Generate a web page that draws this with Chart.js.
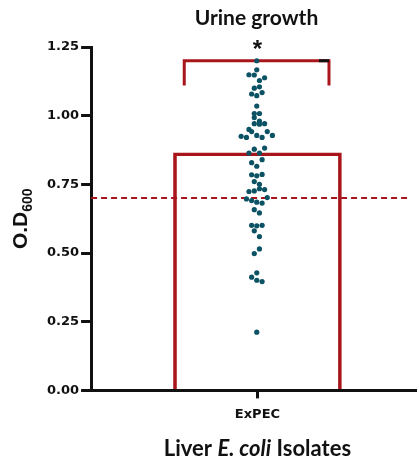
<!DOCTYPE html>
<html lang="en">
<head>
  <meta charset="UTF-8">
  <title>Urine growth</title>
  <script src="https://cdn.jsdelivr.net/npm/chart.js"></script>
  <style>
    html, body { margin: 0; padding: 0; background: #fff; }
    #wrap { width: 419px; height: 461px; }
  </style>
</head>
<body>
  <div id="wrap"><canvas id="chart"></canvas></div>
  <script>
    // data
    const category = 'ExPEC';
    const meanOD = 0.865;
    const cutoff = 0.70;
    const yTicks = [0, 0.25, 0.5, 0.75, 1.0, 1.25];
    const odValues = [
      1.20, 1.167, 1.149, 1.148, 1.128, 1.138, 1.100, 1.105, 1.079, 1.073, 1.084,
      1.035, 1.008, 1.008, 0.993, 0.971, 0.980, 0.969, 0.971, 0.950, 0.942, 0.942,
      0.925, 0.921, 0.928, 0.921, 0.928, 0.878, 0.882, 0.864, 0.864,
      0.840, 0.829, 0.816, 0.785, 0.781, 0.786, 0.760, 0.750, 0.724, 0.726, 0.734,
      0.731, 0.697, 0.691, 0.685, 0.682, 0.702, 0.658, 0.646, 0.601, 0.599, 0.601,
      0.581, 0.560, 0.515, 0.498, 0.428, 0.412, 0.401, 0.396, 0.212
    ];
    // beeswarm spread of each dot, in category units
    const jitter = [
      -0.004, -0.004, -0.051, -0.019, 0.012, 0.043, -0.019, 0.012, -0.035, -0.004, 0.028,
      -0.004, -0.019, 0.012, -0.019, -0.019, 0.012, 0.012, 0.043, -0.051, -0.035, 0.059,
      -0.098, -0.066, -0.004, 0.028, 0.090, -0.019, 0.043, -0.051, 0.012,
      0.028, -0.035, -0.004, -0.035, -0.004, 0.028, -0.019, 0.012, -0.051, -0.019, 0.012,
      0.043, -0.066, -0.035, -0.004, 0.028, 0.059, -0.019, 0.012, -0.035, -0.004, 0.028,
      -0.019, 0.012, 0.012, -0.019, -0.004, -0.035, -0.004, 0.028, -0.004
    ];
    const bracketX = [-0.44, -0.44, 0.43, 0.43];
    const bracketY = [1.11, 1.20, 1.20, 1.11];
    const bracketCapX = [0.37, 0.43];

    const xMin = -1, xMax = 0.947, cutoffEnd = 0.9;
    const red = '#A8161B';
    const teal = '#0B5264';

    const textPlugin = {
      id: 'texts',
      afterDraw(chart) {
        const ctx = chart.ctx;
        const xs = chart.scales.x, ys = chart.scales.y;
        const cx = xs.getPixelForValue(0);
        ctx.save();
        ctx.fillStyle = '#111';
        ctx.textAlign = 'center';
        ctx.textBaseline = 'middle';
        ctx.font = 'bold 21px Lato';
        ctx.fillText('Urine growth', cx - 1, 18);
        ctx.font = 'bold 24px "Liberation Sans"';
        ctx.fillText('*', cx, ys.getPixelForValue(1.2) - 10);

        // x axis title with italic species name
        const f = '22px Lato';
        const parts = [['Liver ', 'bold ' + f], ['E. coli', 'italic bold ' + f], [' Isolates', 'bold ' + f]];
        let w = 0;
        parts.forEach(p => { ctx.font = p[1]; w += ctx.measureText(p[0]).width; });
        let x = cx - w / 2;
        ctx.textAlign = 'left';
        parts.forEach(p => { ctx.font = p[1]; ctx.fillText(p[0], x, 449); x += ctx.measureText(p[0]).width; });

        // y axis title O.D with subscript 600
        ctx.translate(21, (ys.top + ys.bottom) / 2);
        ctx.rotate(-Math.PI / 2);
        ctx.font = 'bold 21px "Liberation Sans"';
        const a = ctx.measureText('O.D').width;
        ctx.font = 'bold 14px "Liberation Sans"';
        const b = ctx.measureText('600').width;
        ctx.font = 'bold 21px "Liberation Sans"';
        ctx.fillText('O.D', -(a + b) / 2, 0);
        ctx.font = 'bold 14px "Liberation Sans"';
        ctx.fillText('600', -(a + b) / 2 + a, 7);
        ctx.restore();
      }
    };

    new Chart(document.getElementById('chart'), {
      data: {
        datasets: [
          {
            type: 'scatter',
            data: odValues.map((v, i) => ({ x: jitter[i], y: v })),
            backgroundColor: teal,
            borderColor: teal,
            pointRadius: 2.6,
            borderWidth: 0,
            order: 0
          },
          {
            type: 'line',
            data: [{ x: xMin, y: cutoff }, { x: cutoffEnd, y: cutoff }],
            borderColor: red,
            borderWidth: 2,
            borderDash: [6, 4],
            pointRadius: 0,
            order: 1
          },
          {
            type: 'line',
            data: bracketX.map((v, i) => ({ x: v, y: bracketY[i] })),
            borderColor: red,
            borderWidth: 3,
            pointRadius: 0,
            clip: false,
            order: 1
          },
          {
            type: 'line',
            data: bracketCapX.map(v => ({ x: v, y: bracketY[1] })),
            borderColor: '#111',
            borderWidth: 3,
            pointRadius: 0,
            clip: false,
            order: 0
          },
          {
            type: 'bar',
            data: [{ x: 0, y: meanOD }],
            backgroundColor: 'rgba(0,0,0,0)',
            borderColor: red,
            borderWidth: 3,
            borderSkipped: 'bottom',
            barThickness: 168,
            order: 2
          }
        ]
      },
      options: {
        responsive: true,
        maintainAspectRatio: false,
        animation: false,
        events: [],
        layout: { padding: { top: 47, left: 45, right: 0, bottom: 31 } },
        plugins: { legend: { display: false }, tooltip: { enabled: false } },
        scales: {
          x: {
            type: 'linear',
            min: xMin,
            max: xMax,
            offset: false,
            afterBuildTicks: s => { s.ticks = [{ value: 0 }]; },
            ticks: {
              callback: () => category,
              color: '#111',
              font: { family: 'DejaVu Sans', weight: 'bold', size: 13 },
              padding: 8
            },
            grid: { drawOnChartArea: false, offset: false, color: '#111', lineWidth: 3, tickLength: 8 },
            border: { color: '#111', width: 3 }
          },
          y: {
            min: 0,
            max: 1.25,
            afterBuildTicks: s => { s.ticks = yTicks.map(v => ({ value: v })); },
            ticks: {
              callback: v => v.toFixed(2),
              color: '#111',
              font: { family: 'DejaVu Sans', weight: 'bold', size: 13 },
              padding: 2
            },
            grid: { drawOnChartArea: false, color: '#111', lineWidth: 3, tickLength: 10 },
            border: { color: '#111', width: 3 }
          }
        }
      },
      plugins: [textPlugin]
    });
  </script>
</body>
</html>
